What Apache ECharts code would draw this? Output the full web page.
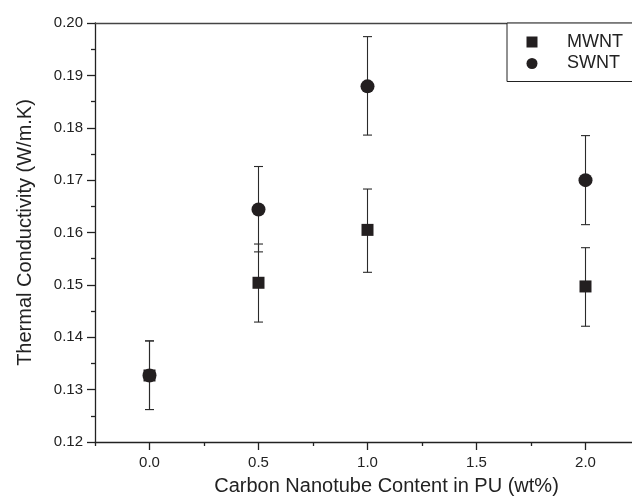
<!DOCTYPE html>
<html>
<head>
<meta charset="utf-8">
<script src="https://cdn.jsdelivr.net/npm/echarts@6/dist/echarts.min.js"></script>
<style>
html,body{margin:0;padding:0;background:#fff;}
#c{width:632px;height:499px;}
</style>
</head>
<body>
<div id="c"></div>
<script>
// Data
const xValues = [0, 0.5, 1.0, 2.0];
const mwntY = [0.1327, 0.1504, 0.1605, 0.1497];
const mwntLow = [0.1262, 0.1429, 0.1524, 0.1421];
const mwntHigh = [0.1393, 0.1578, 0.1683, 0.1571];
const swntY = [0.1327, 0.1644, 0.1879, 0.1700];
const swntLow = [0.1262, 0.1563, 0.1786, 0.1615];
const swntHigh = [0.1393, 0.1726, 0.1974, 0.1785];
const xMajorTicks = [0, 0.5, 1.0, 1.5, 2.0];
const xMinorTicks = [-0.25, 0.25, 0.75, 1.25, 1.75];
const seriesNames = ['MWNT', 'SWNT'];

const FONT = 'Liberation Sans, Arial, sans-serif';
const INK = '#231f20';

function pts(ys) { return xValues.map((x, i) => [x, ys[i]]); }
function bars(lo, hi) { return xValues.map((x, i) => [x, lo[i], hi[i]]); }

function errRender(params, api) {
  const x = api.value(0), lo = api.value(1), hi = api.value(2);
  const a = api.coord([x, lo]), b = api.coord([x, hi]);
  const w = 4.5;
  const st = { stroke: '#2a2a2a', lineWidth: 1.1 };
  return {
    type: 'group',
    children: [
      { type: 'line', shape: { x1: a[0], y1: a[1], x2: b[0], y2: b[1] }, style: st },
      { type: 'line', shape: { x1: a[0] - w, y1: a[1], x2: a[0] + w, y2: a[1] }, style: st },
      { type: 'line', shape: { x1: b[0] - w, y1: b[1], x2: b[0] + w, y2: b[1] }, style: st }
    ]
  };
}

const chart = echarts.init(document.getElementById('c'), null, { renderer: 'canvas' });
chart.setOption({
  animation: false,
  backgroundColor: '#fff',
  textStyle: { fontFamily: FONT },
  grid: { left: 95, top: 23, width: 545, height: 419, containLabel: false, outerBoundsMode: 'none' },
  legend: {
    data: seriesNames,
    orient: 'vertical',
    left: 507,
    top: 23,
    padding: [10, 40, 9, 19.5],
    itemWidth: 11,
    itemHeight: 11,
    itemGap: 3.5,
    backgroundColor: '#fff',
    borderColor: '#222',
    borderWidth: 1,
    textStyle: { fontFamily: FONT, fontSize: 18, color: '#222', padding: [0, 0, 0, 24.5] }
  },
  xAxis: [
    {
      type: 'value', min: -0.25, max: 2.25, interval: 0.25,
      name: 'Carbon Nanotube Content in PU (wt%)',
      nameLocation: 'middle', nameGap: 34,
      nameTextStyle: { fontFamily: FONT, fontSize: 20, color: '#222', padding: [0, 0, 0, 38] },
      axisLine: { show: true, onZero: false, lineStyle: { color: '#222', width: 1.3 } },
      axisTick: { show: true, inside: false, length: 8, customValues: xMajorTicks, lineStyle: { color: '#222', width: 1.3 } },
      axisLabel: { show: true, margin: 13, customValues: xMajorTicks, fontFamily: FONT, fontSize: 15, color: '#222',
        formatter: v => Number(v).toFixed(1) },
      splitLine: { show: false }
    },
    {
      type: 'value', min: -0.25, max: 2.25, interval: 0.25, position: 'bottom',
      axisLine: { show: false },
      axisTick: { show: true, inside: false, length: 4, customValues: xMinorTicks, lineStyle: { color: '#222', width: 1.3 } },
      axisLabel: { show: false },
      splitLine: { show: false }
    },
    {
      type: 'value', min: -0.25, max: 2.25, interval: 0.25, position: 'top',
      axisLine: { show: true, onZero: false, lineStyle: { color: '#444', width: 1.3 } },
      axisTick: { show: false },
      axisLabel: { show: false },
      splitLine: { show: false }
    }
  ],
  yAxis: {
    type: 'value', min: 0.12, max: 0.20, interval: 0.01,
    name: 'Thermal Conductivity (W/m.K)',
    nameLocation: 'middle', nameGap: 60, nameRotate: 90,
    nameTextStyle: { fontFamily: FONT, fontSize: 20, color: '#222' },
    axisLine: { show: true, onZero: false, lineStyle: { color: '#222', width: 1.3 } },
    axisTick: { show: true, inside: false, length: 8, lineStyle: { color: '#222', width: 1.3 } },
    minorTick: { show: true, splitNumber: 2, length: 4, lineStyle: { color: '#222', width: 1.3 } },
    axisLabel: { margin: 12, fontFamily: FONT, fontSize: 15, color: '#222', formatter: v => Number(v).toFixed(2) },
    splitLine: { show: false }
  },
  series: [
    {
      type: 'custom', name: 'MWNT-err', renderItem: errRender, data: bars(mwntLow, mwntHigh),
      encode: { x: 0, y: [1, 2] }, z: 1, silent: true
    },
    {
      type: 'custom', name: 'SWNT-err', renderItem: errRender, data: bars(swntLow, swntHigh),
      encode: { x: 0, y: [1, 2] }, z: 1, silent: true
    },
    {
      type: 'scatter', name: 'MWNT', data: pts(mwntY), symbol: 'rect', symbolSize: 12,
      itemStyle: { color: INK, opacity: 1 }, z: 3
    },
    {
      type: 'scatter', name: 'SWNT', data: pts(swntY), symbol: 'circle', symbolSize: 14,
      itemStyle: { color: INK, opacity: 1 }, z: 3
    }
  ]
});
</script>
</body>
</html>
